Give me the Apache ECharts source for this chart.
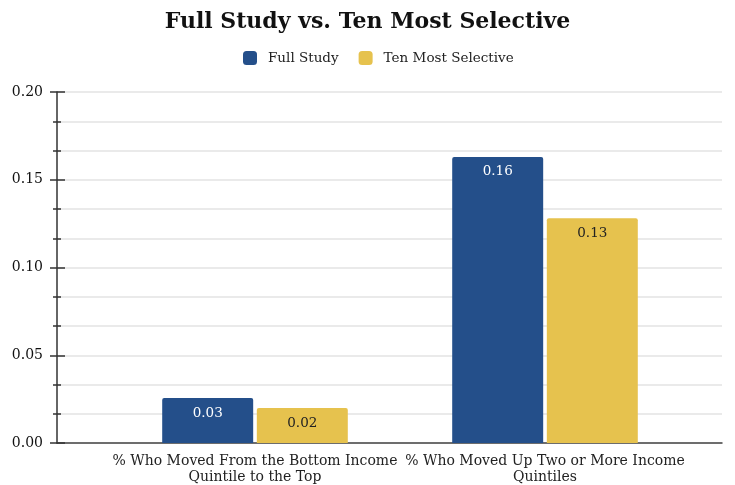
<!DOCTYPE html>
<html><head><meta charset="utf-8">
<script src="https://cdn.jsdelivr.net/npm/echarts@6/dist/echarts.min.js"></script>
<style>html,body{margin:0;padding:0;background:#fff}#c{width:735px;height:485px}</style>
</head><body><div id="c"></div>
<script>
const categories = ["% Who Moved From the Bottom Income\nQuintile to the Top", "% Who Moved Up Two or More Income\nQuintiles"];
const fullStudy = [0.0256, 0.163];
const tenMostSelective = [0.0199, 0.128];
const seriesNames = ["Full Study", "Ten Most Selective"];
const yMin = 0, yMax = 0.2, yInterval = 0.05;

const FONT = "DejaVu Serif";
const chart = echarts.init(document.getElementById('c'));
const lbl = (color) => ({
  show: true, position: 'insideTop', distance: 8, color: color,
  fontFamily: FONT, fontSize: 13.5,
  formatter: p => p.value.toFixed(2)
});
chart.setOption({
  animation: false,
  title: { text: "Full Study vs. Ten Most Selective", left: 'center', top: 6,
    textStyle: { fontFamily: FONT, fontWeight: 'bold', fontSize: 22, color: '#111' } },
  legend: { top: 51, left: 243, padding: 0, itemWidth: 14, itemHeight: 14, itemGap: 20,
    icon: 'roundRect',
    textStyle: { fontFamily: FONT, fontSize: 13.5, color: '#222', padding: [0, 0, 0, 6] }, data: seriesNames },
  grid: [
    { left: 57, right: 13, top: 92, bottom: 42 },
    { left: 110, right: 45, top: 92, bottom: 42 }
  ],
  xAxis: [
    { gridIndex: 0, type: 'category', data: ['a'], axisLabel: { show: false }, axisTick: { show: false },
      axisLine: { lineStyle: { color: '#444', width: 1.5 } } },
    { gridIndex: 1, type: 'category', data: categories, axisLine: { show: false }, axisTick: { show: false },
      axisLabel: { interval: 0, fontFamily: FONT, fontSize: 14, color: '#222', lineHeight: 16, margin: 10 } }
  ],
  yAxis: [
    { gridIndex: 0, type: 'value', position: 'left', min: yMin, max: yMax, interval: yInterval,
      axisLine: { show: true, lineStyle: { color: '#333', width: 1.5 } },
      axisTick: { show: true, length: 7, lineStyle: { color: '#333', width: 1.5 } },
      minorTick: { show: true, splitNumber: 3, length: 4, lineStyle: { color: '#333', width: 1.5 } },
      splitLine: { lineStyle: { color: '#e3e3e3', width: 1.5 } },
      minorSplitLine: { show: true, lineStyle: { color: '#e3e3e3', width: 1.5 } },
      axisLabel: { fontFamily: FONT, fontSize: 14, color: '#111', margin: 14, formatter: v => v.toFixed(2) } },
    { gridIndex: 0, type: 'value', position: 'left', offset: 0, min: yMin, max: yMax, interval: yInterval,
      axisLine: { show: false }, splitLine: { show: false }, axisLabel: { show: false },
      axisTick: { show: true, inside: true, length: 8, lineStyle: { color: '#333', width: 1.5 } },
      minorTick: { show: true, splitNumber: 3, length: 4, lineStyle: { color: '#333', width: 1.5 } } },
    { gridIndex: 1, type: 'value', min: yMin, max: yMax, interval: yInterval, show: false }
  ],
  series: [
    { name: seriesNames[0], type: 'bar', xAxisIndex: 1, yAxisIndex: 2, data: fullStudy,
      barCategoryGap: '36%', barGap: '4%',
      itemStyle: { color: '#244f8a', borderRadius: [2, 2, 0, 0] }, label: lbl('#fff') },
    { name: seriesNames[1], type: 'bar', xAxisIndex: 1, yAxisIndex: 2, data: tenMostSelective,
      barCategoryGap: '36%', barGap: '4%',
      itemStyle: { color: '#e6c24e', borderRadius: [2, 2, 0, 0] }, label: lbl('#222') }
  ]
});
</script></body></html>
